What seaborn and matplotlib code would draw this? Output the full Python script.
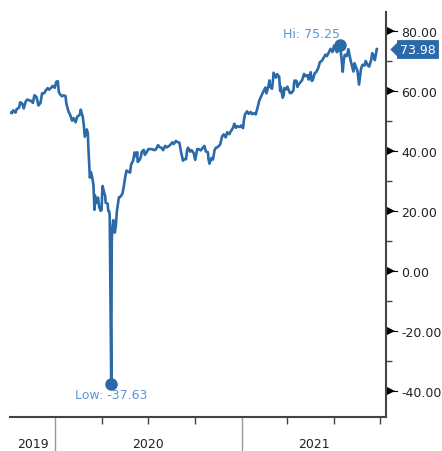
import pandas as pd
import numpy as np
import matplotlib
matplotlib.use("Agg")
import matplotlib.pyplot as plt
import matplotlib.transforms as mtransforms
import seaborn as sns

dates = [
    "2019-10-04", "2019-10-08", "2019-10-10", "2019-10-15", "2019-10-17", "2019-10-22", "2019-10-24",
    "2019-10-28", "2019-10-31", "2019-11-04", "2019-11-07", "2019-11-11", "2019-11-14", "2019-11-18",
    "2019-11-21", "2019-11-25", "2019-11-29", "2019-12-03", "2019-12-06", "2019-12-10", "2019-12-13",
    "2019-12-17", "2019-12-20", "2019-12-24", "2019-12-27", "2019-12-31",
    "2020-01-03", "2020-01-06", "2020-01-08", "2020-01-10", "2020-01-14", "2020-01-17", "2020-01-21",
    "2020-01-23", "2020-01-27", "2020-01-30", "2020-02-03", "2020-02-06", "2020-02-10", "2020-02-13",
    "2020-02-18", "2020-02-20", "2020-02-24", "2020-02-26", "2020-02-28", "2020-03-03", "2020-03-05",
    "2020-03-06", "2020-03-09", "2020-03-11", "2020-03-13", "2020-03-16", "2020-03-18", "2020-03-19",
    "2020-03-20", "2020-03-23", "2020-03-25", "2020-03-27", "2020-03-30", "2020-04-01", "2020-04-02",
    "2020-04-03", "2020-04-06", "2020-04-08", "2020-04-09", "2020-04-13", "2020-04-14", "2020-04-16",
    "2020-04-17", "2020-04-20", "2020-04-21", "2020-04-22", "2020-04-24", "2020-04-27", "2020-04-29",
    "2020-05-01", "2020-05-05", "2020-05-08", "2020-05-12", "2020-05-14", "2020-05-18", "2020-05-20",
    "2020-05-22", "2020-05-27", "2020-05-29", "2020-06-02", "2020-06-05", "2020-06-08", "2020-06-10",
    "2020-06-11", "2020-06-15", "2020-06-17", "2020-06-19", "2020-06-23", "2020-06-25", "2020-06-29",
    "2020-07-02", "2020-07-07", "2020-07-10", "2020-07-14", "2020-07-17", "2020-07-21", "2020-07-24",
    "2020-07-28", "2020-07-31", "2020-08-04", "2020-08-07", "2020-08-11", "2020-08-14", "2020-08-18",
    "2020-08-21", "2020-08-25", "2020-08-28", "2020-09-01", "2020-09-04", "2020-09-08", "2020-09-10",
    "2020-09-14", "2020-09-16", "2020-09-18", "2020-09-22", "2020-09-25", "2020-09-29", "2020-10-02",
    "2020-10-06", "2020-10-09", "2020-10-13", "2020-10-16", "2020-10-20", "2020-10-23", "2020-10-27",
    "2020-10-28", "2020-10-30", "2020-11-03", "2020-11-06", "2020-11-09", "2020-11-12", "2020-11-16",
    "2020-11-18", "2020-11-20", "2020-11-24", "2020-11-27", "2020-12-01", "2020-12-04", "2020-12-08",
    "2020-12-11", "2020-12-15", "2020-12-18", "2020-12-21", "2020-12-24", "2020-12-29", "2020-12-31",
    "2021-01-04", "2021-01-06", "2021-01-08", "2021-01-12", "2021-01-15", "2021-01-19", "2021-01-22",
    "2021-01-26", "2021-01-29", "2021-02-02", "2021-02-05", "2021-02-09", "2021-02-12", "2021-02-17",
    "2021-02-19", "2021-02-23", "2021-02-25", "2021-02-26", "2021-03-02", "2021-03-04", "2021-03-05",
    "2021-03-08", "2021-03-10", "2021-03-12", "2021-03-16", "2021-03-18", "2021-03-19", "2021-03-23",
    "2021-03-25", "2021-03-26", "2021-03-30", "2021-04-01", "2021-04-06", "2021-04-09", "2021-04-13",
    "2021-04-15", "2021-04-19", "2021-04-21", "2021-04-23", "2021-04-27", "2021-04-30", "2021-05-04",
    "2021-05-07", "2021-05-11", "2021-05-13", "2021-05-17", "2021-05-19", "2021-05-21", "2021-05-25",
    "2021-05-28", "2021-06-01", "2021-06-04", "2021-06-08", "2021-06-11", "2021-06-15", "2021-06-18",
    "2021-06-22", "2021-06-25", "2021-06-29", "2021-07-02", "2021-07-06", "2021-07-08", "2021-07-13",
    "2021-07-15", "2021-07-16", "2021-07-19", "2021-07-21", "2021-07-23", "2021-07-27", "2021-07-30",
    "2021-08-03", "2021-08-05", "2021-08-09", "2021-08-11", "2021-08-13", "2021-08-17", "2021-08-19",
    "2021-08-20", "2021-08-24", "2021-08-27", "2021-08-31", "2021-09-02", "2021-09-07", "2021-09-09",
    "2021-09-13", "2021-09-15", "2021-09-17", "2021-09-20", "2021-09-22", "2021-09-24",
]
prices = [
    52.81, 52.63, 53.55, 52.81, 53.93, 54.48, 56.23,
    55.81, 54.18, 56.54, 57.15, 56.86, 56.77, 56.05,
    58.58, 58.01, 55.17, 56.10, 59.20, 59.24, 60.07,
    60.94, 60.44, 61.11, 61.72, 61.06,
    63.05, 63.27, 59.61, 59.04, 58.23, 58.54, 58.34,
    55.59, 53.14, 52.14, 50.11, 50.95, 49.57, 51.42,
    52.05, 53.78, 51.43, 48.73, 44.76, 47.18, 45.90,
    41.28, 31.13, 32.98, 31.73, 28.70, 20.37, 25.22,
    22.43, 23.36, 24.49, 21.51, 20.09, 20.31, 25.32,
    28.34, 26.08, 25.09, 22.76, 22.41, 20.11, 19.87,
    18.27, -37.63, 10.01, 13.78, 16.94, 12.78, 15.06,
    19.78, 24.56, 24.74, 25.78, 27.56, 31.82, 33.49,
    33.25, 32.81, 35.49, 36.81, 39.55, 38.19, 39.60,
    36.34, 37.12, 37.96, 39.75, 40.37, 38.72, 39.70,
    40.65, 40.62, 40.55, 40.29, 40.59, 41.96, 41.29,
    41.04, 40.27, 41.70, 41.22, 41.61, 42.01, 42.89,
    42.34, 43.35, 42.97, 42.76, 39.77, 36.76, 37.30,
    37.26, 40.16, 41.11, 39.80, 40.25, 39.29, 37.05,
    40.67, 40.60, 40.20, 40.88, 41.70, 39.85, 39.57,
    37.39, 35.79, 37.66, 37.14, 40.29, 41.12, 41.34,
    41.82, 42.15, 44.91, 45.53, 44.55, 46.26, 45.60,
    46.57, 47.62, 49.10, 47.74, 48.23, 48.00, 48.52,
    47.62, 50.63, 52.24, 53.21, 52.36, 52.98, 52.27,
    52.61, 52.20, 54.76, 56.85, 58.36, 59.47, 61.14,
    59.24, 61.67, 63.53, 61.50, 60.75, 63.83, 66.09,
    65.05, 64.44, 65.61, 64.80, 60.00, 61.42, 57.76,
    58.56, 60.97, 60.55, 61.45, 59.33, 59.32, 60.18,
    63.46, 63.38, 61.35, 62.14, 62.94, 63.58, 65.69,
    64.90, 65.28, 63.82, 66.27, 63.36, 63.58, 65.97,
    66.32, 67.72, 69.62, 70.05, 70.91, 72.12, 71.64,
    73.06, 74.05, 72.98, 75.16, 73.37, 72.94, 75.25,
    73.13, 71.81, 66.42, 70.30, 72.07, 71.65, 73.95,
    70.56, 69.09, 66.48, 69.25, 68.44, 66.59, 63.50,
    62.14, 67.54, 68.74, 68.50, 69.99, 68.35, 68.14,
    70.45, 72.61, 71.97, 70.29, 72.23, 73.98,
]
year_labels = ["2019", "2020", "2021"]
y_ticks = [80, 60, 40, 20, 0, -20, -40]

df = pd.DataFrame({"date": pd.to_datetime(dates), "price": prices})

line_col = "#2b6aa8"
label_col = "#5d97cf"

fig = plt.figure(figsize=(4.42, 4.52), dpi=100)
ax = fig.add_axes([10 / 442, 1 - 418 / 452, 376 / 442, 405 / 452])

sns.lineplot(data=df, x="date", y="price", ax=ax, color=line_col, linewidth=1.9)

x0 = pd.Timestamp("2019-10-04")
x1 = pd.Timestamp("2021-10-12")
ax.set_xlim(x0, x1)
ax.set_ylim(-48.67, 86.33)
ax.set_xlabel("")
ax.set_ylabel("")

for s in ["top", "left"]:
    ax.spines[s].set_visible(False)
ax.spines["right"].set_color("#444444")
ax.spines["right"].set_linewidth(1.5)
ax.spines["bottom"].set_color("#444444")
ax.spines["bottom"].set_linewidth(1.5)

# y axis on the right with arrow-like major ticks
ax.yaxis.tick_right()
ax.set_yticks(y_ticks)
ax.set_yticklabels([f"{v:.2f}" for v in y_ticks], fontsize=9, color="#222222")
ax.tick_params(axis="y", which="major", length=0, pad=11)
ax.set_yticks([70, 50, 30, 10, -10, -30], minor=True)
ax.tick_params(axis="y", which="minor", length=4, width=1, color="#444444", direction="out")
ytr = ax.get_yaxis_transform()
tri_tr = mtransforms.offset_copy(ytr, fig=fig, x=5, y=0, units="dots")
ax.plot([1.0] * len(y_ticks), y_ticks, marker=">", ms=5.5, color="black", ls="none",
        transform=tri_tr, clip_on=False, markeredgewidth=0)
for v in y_ticks:
    ax.plot([1.0, 1.03], [v, v], color="black", lw=0.8, transform=ytr, clip_on=False)

# x axis: year boundaries + quarter ticks
years = [pd.Timestamp("2020-01-01"), pd.Timestamp("2021-01-01")]
quarters = pd.date_range("2019-10-01", "2021-10-01", freq="QS")
quarters = [q for q in quarters if x0 <= q <= x1 and q not in years]
ax.set_xticks(years)
ax.set_xticklabels([])
ax.tick_params(axis="x", which="major", length=36, width=1, color="#999999")
ax.set_xticks(quarters, minor=True)
ax.tick_params(axis="x", which="minor", length=5, width=1, color="#444444")
ax.xaxis.set_minor_formatter(plt.NullFormatter())

bounds = [x0] + years + [x1]
xtr = ax.get_xaxis_transform()
for i, lab in enumerate(year_labels):
    mid = bounds[i] + (bounds[i + 1] - bounds[i]) / 2
    ax.text(mid, -0.065, lab, transform=xtr, ha="center", va="center",
            fontsize=9, color="#222222", clip_on=False)

# hi / low markers
hi = df.loc[df["price"].idxmax()]
lo = df.loc[df["price"].idxmin()]
ax.plot([hi["date"]], [hi["price"]], "o", ms=8, color=line_col)
ax.plot([lo["date"]], [lo["price"]], "o", ms=8, color=line_col)
ax.annotate(f"Hi: {hi['price']:.2f}", (hi["date"], hi["price"]), xytext=(0, 8.5),
            textcoords="offset points", ha="right", va="center", fontsize=9, color=label_col)
ax.annotate(f"Low: {lo['price']:.2f}", (lo["date"], lo["price"]), xytext=(0, -8),
            textcoords="offset points", ha="center", va="center", fontsize=9, color=label_col)

# last value tag
last = df["price"].iloc[-1]
ax.text(1.037, last, f"{last:.2f}", transform=ytr, ha="left", va="center", fontsize=9,
        color="white", clip_on=False,
        bbox=dict(boxstyle="square,pad=0.22", fc=line_col, ec=line_col, lw=0.6))
tag_tr = mtransforms.offset_copy(ytr, fig=fig, x=8, y=0, units="dots")
ax.plot([1.0], [last], marker=[(-0.5, 0), (0.5, 1), (0.5, -1)], ms=12, color=line_col,
        transform=tag_tr, clip_on=False, markeredgewidth=0)

fig.savefig("out.png", dpi=100)
